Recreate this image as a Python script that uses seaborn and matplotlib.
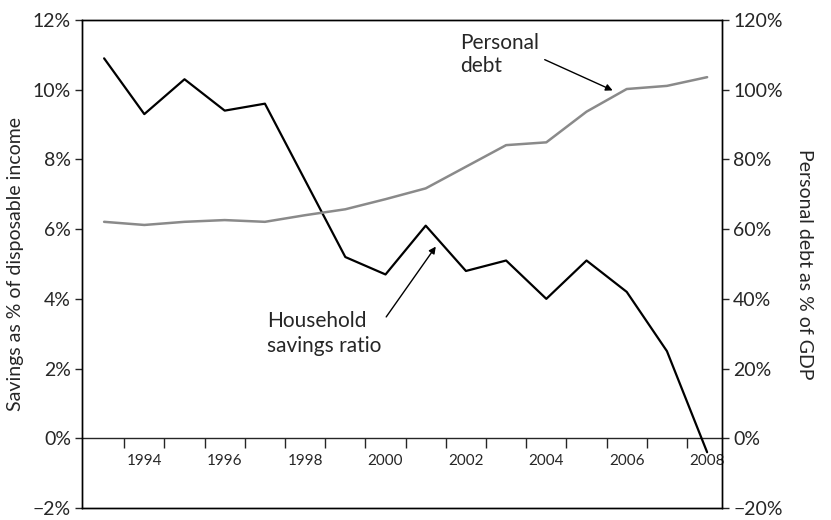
import numpy as np
import pandas as pd
import matplotlib
matplotlib.use('Agg')
import matplotlib.pyplot as plt
from matplotlib.ticker import FuncFormatter
import seaborn as sns

years = list(range(1993, 2009))
savings = [10.9, 9.3, 10.3, 9.4, 9.6, 7.4, 5.2, 4.7, 6.1, 4.8, 5.1, 4.0, 5.1, 4.2, 2.5, -0.4]
debt = [62.1, 61.2, 62.1, 62.6, 62.1, 64.0, 65.7, 68.6, 71.7, 77.9, 84.1, 84.9, 93.7, 100.2, 101.1, 103.6]
year_labels = list(range(1994, 2009, 2))

df = pd.DataFrame({'year': years, 'savings': savings, 'debt': debt})

sns.set_style('white')
plt.rcParams['font.family'] = ['Lato', 'DejaVu Sans']
plt.rcParams['axes.unicode_minus'] = True

fig = plt.figure(figsize=(8.31, 5.20), dpi=100)
ax = fig.add_axes([82/831, 1 - 508/520, (722 - 82)/831, (508 - 20)/520])
ax2 = ax.twinx()

sns.lineplot(data=df, x='year', y='savings', ax=ax, color='black', linewidth=1.6)
sns.lineplot(data=df, x='year', y='debt', ax=ax2, color='#8a8a8a', linewidth=1.8)

ax.set_xlim(1992.45, 2008.37)
ax.set_ylim(-2, 12)
ax2.set_ylim(-20, 120)
ax.set_yticks(np.arange(-2, 13, 2))
ax2.set_yticks(np.arange(-20, 121, 20))
pct = FuncFormatter(lambda v, p: ('\u2212' if v < 0 else '') + '%d%%' % abs(v))
ax.yaxis.set_major_formatter(pct)
ax2.yaxis.set_major_formatter(pct)

for a in (ax, ax2):
    for s in a.spines.values():
        s.set_color('black')
        s.set_linewidth(1.0)
ax.tick_params(axis='y', direction='out', length=5, width=1, labelsize=14, pad=3, left=True)
ax2.tick_params(axis='y', direction='out', length=5, width=1, labelsize=14, pad=3, right=True)
ax.set_xticks([])
ax.set_xlabel('')

# zero line acting as the x axis
sec = ax.secondary_xaxis(2 / 14)
sec.spines['bottom'].set_linewidth(1.0)
sec.set_xticks(np.arange(1993.5, 2008, 1))
sec.set_xticks(year_labels, minor=True)
sec.xaxis.set_major_formatter(FuncFormatter(lambda v, p: ''))
sec.xaxis.set_minor_formatter(FuncFormatter(lambda v, p: '%d' % v))
sec.tick_params(which='major', direction='out', length=7, width=1)
sec.tick_params(which='minor', length=0, labelsize=11, pad=11)

ax.set_ylabel('Savings as % of disposable income', fontsize=14, labelpad=6)
ax2.set_ylabel('Personal debt as % of GDP', fontsize=14, rotation=-90, labelpad=22)

ax2.annotate('Personal\ndebt', xy=(2005.65, 99.8), xytext=(2001.85, 110.0),
             fontsize=15, ha='left', va='center', linespacing=1.2,
             arrowprops=dict(arrowstyle='-|>', color='black', lw=1, mutation_scale=10,
                             shrinkA=2, shrinkB=0, relpos=(1.0, 0.45)))
ax.annotate('Household\nsavings ratio', xy=(2001.25, 5.5), xytext=(1997.05, 3.0),
            fontsize=15, ha='left', va='center', linespacing=1.3,
            arrowprops=dict(arrowstyle='-|>', color='black', lw=1, mutation_scale=10,
                            shrinkA=2, shrinkB=0, relpos=(1.0, 0.72)))

fig.savefig('out.png', dpi=100)
